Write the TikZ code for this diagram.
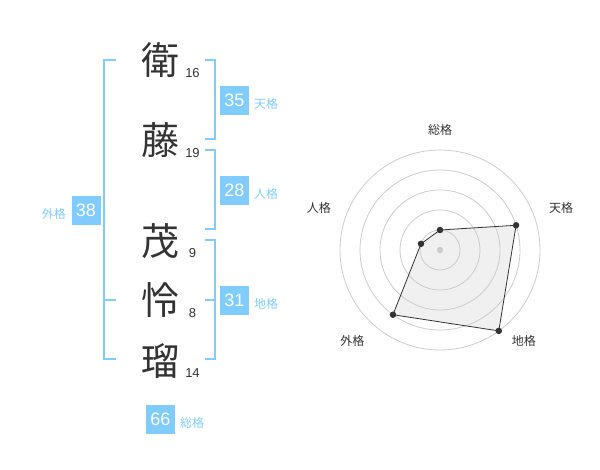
\documentclass[tikz,border=0pt]{standalone}
\usepackage{fontspec}
\setmainfont{Liberation Sans}
\newfontfamily\jpfont{Noto Sans CJK JP}
\definecolor{kakublue}{RGB}{128,204,255}
\definecolor{inkgray}{RGB}{51,51,51}
\definecolor{ringgray}{RGB}{204,204,204}
\definecolor{areagray}{RGB}{240,240,240}

\begin{document}
\begin{tikzpicture}[x=1pt, y=-1pt,
    kanji/.style={font=\jpfont\fontsize{38}{38}\selectfont, text=inkgray, inner sep=0},
    strokes/.style={font=\fontsize{13}{13}\selectfont, text=inkgray, inner sep=0},
    kakubox/.style={fill=kakublue, text=white, font=\fontsize{18}{18}\selectfont,
      minimum size=29pt, inner sep=0},
    kakuname/.style={font=\jpfont\fontsize{12}{12}\selectfont, text=kakublue, inner sep=0},
    bracket/.style={draw=kakublue, line width=2pt},
    ring/.style={draw=ringgray, line width=0.8pt},
    dot/.style={circle, fill=inkgray, inner sep=0, minimum size=6.5pt},
    axisname/.style={font=\jpfont\fontsize{12}{12}\selectfont, text=inkgray, inner sep=0}]
  \useasboundingbox (0,0) rectangle (600,470);

  % name
  \draw (160,60) node[kanji] (K1) {衛};
  \draw (160,140.5) node[kanji] (K2) {藤};
  \draw (160,241) node[kanji] (K3) {茂};
  \draw (160,300) node[kanji] (K4) {怜};
  \draw (160,361) node[kanji] (K5) {瑠};

  \draw (192.5,73) node[strokes] (N1) {16};
  \draw (192.5,153) node[strokes] (N2) {19};
  \draw (192.5,253) node[strokes] (N3) {9};
  \draw (192.5,313) node[strokes] (N4) {8};
  \draw (192.5,373) node[strokes] (N5) {14};

  % brackets
  \coordinate (Ga) at (116,60);  \coordinate (Gb) at (104,60);
  \coordinate (Gc) at (104,359); \coordinate (Gd) at (116,359);
  \coordinate (Ge) at (104,300); \coordinate (Gf) at (116,300);
  \draw[bracket] (Ga) -- (Gb) -- (Gc) -- (Gd);
  \draw[bracket] (Ge) -- (Gf);

  \coordinate (Ta) at (205,60);  \coordinate (Tb) at (215,60);
  \coordinate (Tc) at (215,139); \coordinate (Td) at (205,139);
  \draw[bracket] (Ta) -- (Tb) -- (Tc) -- (Td);

  \coordinate (Ja) at (205,150); \coordinate (Jb) at (215,150);
  \coordinate (Jc) at (215,229); \coordinate (Jd) at (205,229);
  \draw[bracket] (Ja) -- (Jb) -- (Jc) -- (Jd);

  \coordinate (Ca) at (205,240); \coordinate (Cb) at (215,240);
  \coordinate (Cc) at (215,359); \coordinate (Cd) at (205,359);
  \coordinate (Ce) at (215,300); \coordinate (Cf) at (205,300);
  \draw[bracket] (Ca) -- (Cb) -- (Cc) -- (Cd);
  \draw[bracket] (Ce) -- (Cf);

  % scores
  \draw (234.5,100.5) node[kakubox] (T) {35};
  \draw (254,104) node[kakuname, anchor=west] (Tn) {天格};
  \draw (234.5,190.5) node[kakubox] (J) {28};
  \draw (254,194) node[kakuname, anchor=west] (Jn) {人格};
  \draw (234.5,300.5) node[kakubox] (C) {31};
  \draw (254,304) node[kakuname, anchor=west] (Cn) {地格};
  \draw (86,210.5) node[kakubox] (G) {38};
  \draw (66,214) node[kakuname, anchor=east] (Gn) {外格};
  \draw (160.5,419) node[kakubox] (S) {66};
  \draw (180,422.5) node[kakuname, anchor=west] (Sn) {総格};

  % radar
  \begin{scope}[shift={(440,250)}, yscale=-1]
    \coordinate (rS) at (90:20);
    \coordinate (rT) at (18:80);
    \coordinate (rC) at (-54:100);
    \coordinate (rG) at (-126:80);
    \coordinate (rJ) at (162:20);
    \fill[areagray] (rS) -- (rT) -- (rC) -- (rG) -- (rJ) -- cycle;

    \foreach \r in {20,40,...,100}
      \draw[ring] (0,0) circle[radius=\r];
    \fill[ringgray] (0,0) circle[radius=3.2];

    \draw[inkgray, line width=0.8pt]
      (rS) -- (rT) -- (rC) -- (rG) -- (rJ) -- cycle;
    \foreach \p in {rS,rT,rC,rG,rJ}
      \node[dot] (d\p) at (\p) {};

    \draw (90:120) node[axisname] (aS) {総格};
    \draw (19:128) node[axisname] (aT) {天格};
    \draw (-47.5:124) node[axisname] (aC) {地格};
    \draw (-134:126) node[axisname] (aG) {外格};
    \draw (161:128) node[axisname] (aJ) {人格};
  \end{scope}
\end{tikzpicture}
\end{document}
